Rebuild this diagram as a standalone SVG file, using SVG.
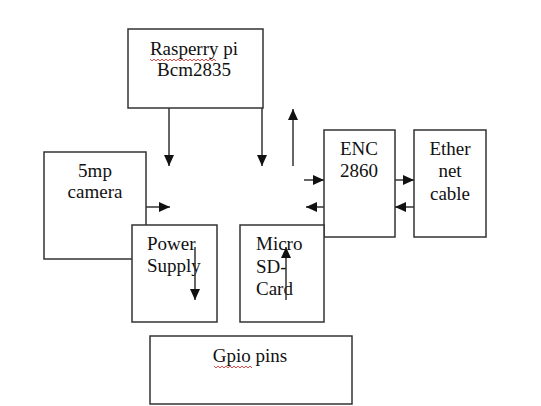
<svg xmlns="http://www.w3.org/2000/svg" width="541" height="406" viewBox="0 0 541 406">
<style>
.box{fill:#fff;stroke:#333;stroke-width:1.5}
.t{font-family:'Liberation Serif','DejaVu Serif',serif;font-size:19px;fill:#111}
.m{text-anchor:middle}
.c{stroke:#333;stroke-width:1.5;fill:none}
.sq{stroke:#e02020;stroke-width:0.8;fill:none}
</style>
<defs>
<marker id="ah" viewBox="0 0 11 10" refX="11" refY="5" markerWidth="11" markerHeight="10" markerUnits="userSpaceOnUse" orient="auto">
<path d="M0,0 L11,5 L0,10 z" fill="#111"/>
</marker>
</defs>
<rect width="541" height="406" fill="#fff"/>
<g id="raspberry">
<rect class="box" x="128" y="29" width="135" height="79"/>
<text class="t m" x="194" y="55">Rasperry pi</text>
<text class="t m" x="194" y="76">Bcm2835</text>
<path class="sq" d="M150,59 l2,2 l2,-2 l2,2 l2,-2 l2,2 l2,-2 l2,2 l2,-2 l2,2 l2,-2 l2,2 l2,-2 l2,2 l2,-2 l2,2 l2,-2 l2,2 l2,-2 l2,2 l2,-2 l2,2 l2,-2 l2,2 l2,-2 l2,2 l2,-2 l2,2 l2,-2 l2,2 l2,-2 l2,2 l2,-2 l2,2"/>
</g>
<g id="camera">
<rect class="box" x="44" y="152" width="102" height="107"/>
<text class="t m" x="95" y="177">5mp</text>
<text class="t m" x="95" y="198">camera</text>
</g>
<g id="enc">
<rect class="box" x="324" y="130" width="71" height="107"/>
<text class="t m" x="359" y="155">ENC</text>
<text class="t m" x="359" y="177">2860</text>
</g>
<g id="ethernet">
<rect class="box" x="414" y="130" width="72" height="107"/>
<text class="t m" x="450" y="155">Ether</text>
<text class="t m" x="450" y="177">net</text>
<text class="t m" x="450" y="200">cable</text>
</g>
<g id="power">
<rect class="box" x="132" y="225" width="85" height="97"/>
<text class="t" x="147" y="250">Power</text>
<text class="t" x="147" y="272">Supply</text>
</g>
<g id="microsd">
<rect class="box" x="240" y="225" width="84" height="97"/>
<text class="t" x="256" y="250">Micro</text>
<text class="t" x="256" y="273">SD-</text>
<text class="t" x="256" y="295">Card</text>
</g>
<g id="gpio">
<rect class="box" x="150" y="336" width="202" height="68"/>
<text class="t m" x="250" y="362">Gpio pins</text>
<path class="sq" d="M214,366 l2,2 l2,-2 l2,2 l2,-2 l2,2 l2,-2 l2,2 l2,-2 l2,2 l2,-2 l2,2 l2,-2 l2,2 l2,-2 l2,2 l2,-2 l2,2 l2,-2 l2,2"/>
</g>
<g id="connectors">
<line class="c" x1="169" y1="108" x2="169" y2="166" marker-end="url(#ah)"/>
<line class="c" x1="262" y1="108" x2="262" y2="166" marker-end="url(#ah)"/>
<line class="c" x1="146" y1="207" x2="170" y2="207" marker-end="url(#ah)"/>
<line class="c" x1="195" y1="247" x2="195" y2="300" marker-end="url(#ah)"/>
<line class="c" x1="286" y1="300" x2="286" y2="247" marker-end="url(#ah)"/>
<line class="c" x1="293" y1="166" x2="293" y2="109" marker-end="url(#ah)"/>
<line class="c" x1="304" y1="180" x2="324" y2="180" marker-end="url(#ah)"/>
<line class="c" x1="324" y1="207" x2="306" y2="207" marker-end="url(#ah)"/>
<line class="c" x1="395" y1="180" x2="414" y2="180" marker-end="url(#ah)"/>
<line class="c" x1="414" y1="207" x2="395" y2="207" marker-end="url(#ah)"/>
</g>
</svg>
